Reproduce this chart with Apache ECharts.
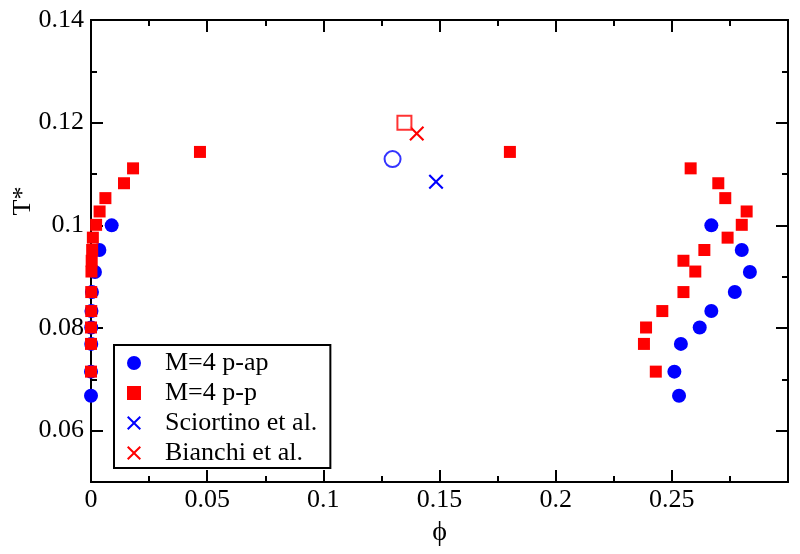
<!DOCTYPE html>
<html><head><meta charset="utf-8">
<script src="https://cdn.jsdelivr.net/npm/echarts@6/dist/echarts.min.js"></script>
<style>html,body{margin:0;padding:0;background:#fff}#c{width:800px;height:554px}</style>
</head><body><div id="c"></div>
<script>
// M=4 p-ap (blue filled circles): [phi, T]
const papPhi = [0.0000, 0.0000, 0.0001, 0.0001, 0.0002, 0.0004, 0.0017, 0.0036, 0.0089,
                0.2531, 0.2511, 0.2539, 0.2620, 0.2670, 0.2771, 0.2836, 0.2801, 0.2670];
const papT   = [0.0668, 0.0715, 0.0769, 0.0801, 0.0833, 0.0870, 0.0909, 0.0952, 0.1000,
                0.0668, 0.0715, 0.0769, 0.0801, 0.0833, 0.0870, 0.0909, 0.0952, 0.1000];
// M=4 p-p (red filled squares)
const ppPhi = [0.0000, 0.0000, 0.0000, 0.0001, 0.0001, 0.0002, 0.0003, 0.0005, 0.0008, 0.0022, 0.0037, 0.0062, 0.0142, 0.0181, 0.0469,
               0.1803, 0.2581, 0.2700, 0.2730, 0.2822, 0.2801, 0.2740, 0.2640, 0.2601, 0.2550, 0.2550, 0.2459, 0.2389, 0.2380, 0.2431];
const ppT   = [0.0715, 0.0769, 0.0801, 0.0833, 0.0870, 0.0910, 0.0931, 0.0952, 0.0976, 0.1001, 0.1027, 0.1053, 0.1082, 0.1111, 0.1143,
               0.1143, 0.1111, 0.1082, 0.1053, 0.1027, 0.1001, 0.0976, 0.0952, 0.0910, 0.0931, 0.0870, 0.0833, 0.0801, 0.0769, 0.0715];
// critical points
const papCrit = [0.1298, 0.1129];
const ppCrit  = [0.1349, 0.1200];
const sciortino = [0.1485, 0.1085];
const bianchi   = [0.1402, 0.1179];

const xTicks = [0, 0.05, 0.1, 0.15, 0.2, 0.25];
const yTicks = [0.06, 0.08, 0.1, 0.12, 0.14];

const FONT = 'Liberation Serif';
const CROSS = 'path://M0,2L2,0L10,8L18,0L20,2L12,10L20,18L18,20L10,12L2,20L0,18L8,10Z';
const pair = (xs, ys) => xs.map((x, i) => [x, ys[i]]);

const chart = echarts.init(document.getElementById('c'), null, {renderer: 'canvas'});
const line = {show: true, onZero: false, lineStyle: {color: '#000', width: 2}};
const fmtX = v => xTicks.some(t => Math.abs(t - v) < 1e-9) ? String(parseFloat(v.toFixed(2))) : '';
const fmtY = v => yTicks.some(t => Math.abs(t + v) < 1e-9) ? String(parseFloat((-v).toFixed(2))) : '';

function xAx(pos, labels) {
  return {
    type: 'value', position: pos, min: 0, max: 0.3, interval: 0.05,
    axisLine: line,
    axisTick: {show: true, inside: true, length: 12, lineStyle: {color: '#000', width: 2}},
    minorTick: {show: true, splitNumber: 2, length: 6, lineStyle: {color: '#000', width: 2}},
    splitLine: {show: false}, minorSplitLine: {show: false},
    axisLabel: {show: labels, formatter: fmtX, color: '#000', fontFamily: FONT, fontSize: 26, margin: 5},
    name: labels ? 'ϕ' : '', nameLocation: 'middle', nameGap: 37, nameMoveOverlap: false,
    nameTextStyle: {color: '#000', fontFamily: FONT, fontSize: 28}
  };
}
function yMinor(pos) {
  return {
    type: 'value', position: pos, offset: 0, min: 0.05, max: 0.14, interval: 0.01,
    axisLine: line,
    axisTick: {show: true, inside: true, length: 6, lineStyle: {color: '#000', width: 2}},
    splitLine: {show: false}, axisLabel: {show: false}
  };
}
function yMajor(pos, labels) {
  return {
    type: 'value', position: pos, offset: 0, min: -0.14, max: -0.05, interval: 0.02, inverse: true,
    axisLine: line,
    axisTick: {show: true, inside: true, length: 12, lineStyle: {color: '#000', width: 2}},
    splitLine: {show: false},
    axisLabel: {show: labels, formatter: fmtY, color: '#000', fontFamily: FONT, fontSize: 26, margin: 7},
    name: labels ? 'T*' : '', nameLocation: 'middle', nameGap: 55, nameRotate: 90, nameMoveOverlap: false,
    nameTextStyle: {color: '#000', fontFamily: FONT, fontSize: 26, padding: [0, 0, 0, 100]}
  };
}

chart.setOption({
  animation: false,
  backgroundColor: '#fff',
  grid: {left: 91, right: 12, top: 20, bottom: 72, containLabel: false, outerBoundsMode: 'none'},
  xAxis: [xAx('bottom', true), xAx('top', false)],
  yAxis: [yMinor('left'), yMajor('left', true), yMinor('right'), yMajor('right', false)],
  legend: {
    orient: 'vertical', left: 114, top: 345,
    data: ['M=4 p-ap', 'M=4 p-p', 'Sciortino et al.', 'Bianchi et al.'],
    itemWidth: 14, itemHeight: 14, itemGap: 4,
    padding: [5, 13, 2, 13],
    borderColor: '#000', borderWidth: 2, backgroundColor: '#fff',
    textStyle: {color: '#000', fontFamily: FONT, fontSize: 26, lineHeight: 26, padding: [0, 0, 0, 19]}
  },
  series: [
    {name: 'M=4 p-ap', type: 'scatter', xAxisIndex: 0, yAxisIndex: 0, symbol: 'circle', symbolSize: 14,
     itemStyle: {color: '#0000ff', opacity: 1}, data: pair(papPhi, papT)},
    {name: 'M=4 p-p', type: 'scatter', xAxisIndex: 0, yAxisIndex: 0, symbol: 'rect', symbolSize: 12,
     itemStyle: {color: '#ff0000', opacity: 1}, data: pair(ppPhi, ppT)},
    {name: 'Sciortino et al.', type: 'scatter', xAxisIndex: 0, yAxisIndex: 0, symbol: CROSS, symbolSize: 15,
     itemStyle: {color: '#0000ff', opacity: 1}, data: [sciortino]},
    {name: 'Bianchi et al.', type: 'scatter', xAxisIndex: 0, yAxisIndex: 0, symbol: CROSS, symbolSize: 15,
     itemStyle: {color: '#ff0000', opacity: 1}, data: [bianchi]},
    {name: 'p-ap critical', type: 'scatter', xAxisIndex: 0, yAxisIndex: 0, symbol: 'emptyCircle', symbolSize: 16,
     itemStyle: {color: '#0000ff', borderColor: '#0000ff', borderWidth: 2}, data: [papCrit]},
    {name: 'p-p critical', type: 'scatter', xAxisIndex: 0, yAxisIndex: 0, symbol: 'emptyRect', symbolSize: 14,
     itemStyle: {color: '#ff0000', borderColor: '#ff0000', borderWidth: 2}, data: [ppCrit]}
  ]
});
</script></body></html>
